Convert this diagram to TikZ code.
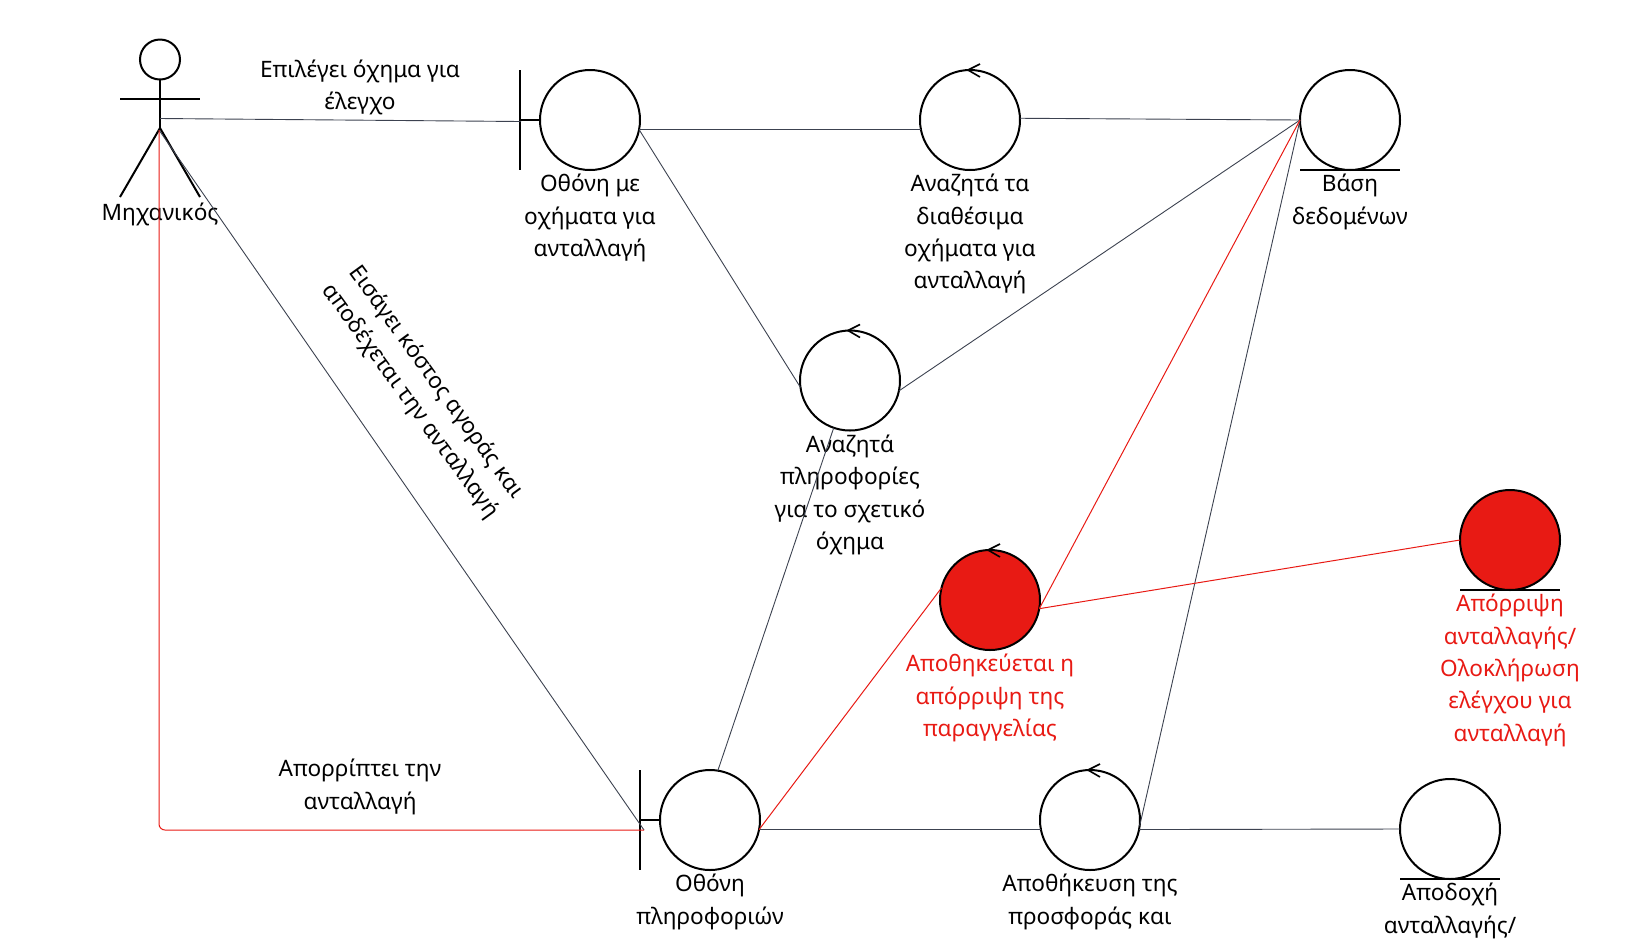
\documentclass[tikz,border=0pt]{standalone}
\usepackage{fontspec}
\setmainfont{Noto Sans}
\usetikzlibrary{positioning}
\definecolor{lnk}{HTML}{3C4250}
\definecolor{rj}{HTML}{E81A14}
\begin{document}
\begin{tikzpicture}[x=.5pt,y=-.5pt,
  o/.style={draw, circle, line width=1pt, minimum size=50pt, inner sep=0pt, outer sep=0pt},
  r/.style={o, fill=rj},
  l/.style={inner sep=0pt, align=center, font=\fontsize{11.3}{16.15}\selectfont},
  t/.style={l, below=2pt of #1},
  s/.style={line width=1pt},
  k/.style={lnk, line width=.45pt},
  e/.style={rj, line width=.5pt},
  node distance=2pt]
  \useasboundingbox (0,0) rectangle (1640,939);
  % robustness objects
  \node[o] (bA) at (590,120) {};
  \node[o] (cA) at (970,120) {};
  \node[o] (dA) at (1350,120) {};
  \node[o] (cB) at (850,380.5) {};
  \node[r] (cC) at (990,600) {};
  \node[r] (dB) at (1510,540) {};
  \node[o] (bB) at (710,820) {};
  \node[o] (cD) at (1090,820) {};
  \node[o] (dC) at (1450,829) {};
  % loops on the controls
  \foreach \c in {cA,cB,cC,cD}
    \draw[s, line width=.8pt] (\c.north) ++(10,-6) -- ++(-12,6) -- ++(12,7);
  % boundary bars and entity lines
  \foreach \c in {bA,bB}{
    \draw[s] (\c.west) -- ++(-20,0);
    \draw[s] (\c.west) ++(-20,-50) -- ++(0,100);
  }
  \foreach \c in {dA,dB,dC}
    \draw[s] (\c.south) ++(-50,0) -- ++(100,0);
  % actor
  \node[draw, circle, line width=1pt, minimum size=20pt, inner sep=0pt, outer sep=0pt] (aH) at (160,59.5) {};
  \coordinate (aN) at (160,99);
  \coordinate (aW) at (160,118.5);
  \coordinate (aP) at (160,128);
  \coordinate (aQ) at (159,130);
  \draw[s] (aH.south) -- (aP);
  \draw[s] (aN) ++(-40,0) -- ++(80,0);
  \draw[s] (120,197) -- (aP) -- (200,197);
  % labels
  \node[l] (tM) at (160,214) {Μηχανικός};
  \node[t=bA] (tA) {Οθόνη με\\οχήματα για\\ανταλλαγή};
  \node[t=cA] (tB) {Αναζητά τα\\διαθέσιμα\\οχήματα για\\ανταλλαγή};
  \node[t=dA] (tC) {Βάση\\δεδομένων};
  \node[t=cB] (tD) {Αναζητά\\πληροφορίες\\για το σχετικό\\όχημα};
  \node[t=cC, rj] (tE) {Αποθηκεύεται η\\απόρριψη της\\παραγγελίας};
  \node[t=dB, rj] (tF) {Απόρριψη\\ανταλλαγής/\\Ολοκλήρωση\\ελέγχου για\\ανταλλαγή};
  \node[t=bB] (tG) {Οθόνη\\πληροφοριών};
  \node[t=cD] (tH) {Αποθήκευση της\\προσφοράς και};
  \node[t=dC] (tI) {Αποδοχή\\ανταλλαγής/};
  \node[l] (tJ) at (360,87.5) {Επιλέγει όχημα για\\έλεγχο};
  \node[l] (tK) at (360,787) {Απορρίπτει την\\ανταλλαγή};
  \node[l, rotate=-54] (tL) at (423,392) {Εισάγει κόστος αγοράς και\\αποδέχεται την ανταλλαγή};
  % connectors
  \coordinate (bAin) at (521,121.5);
  \coordinate (bBin) at (644,830);
  \draw[k] (aW) -- (bAin);
  \draw[k] (bA.-11.5) -- (cA.191.5);
  \draw[k] (bA.-11.5) -- (cB.188);
  \draw[k] (cA.2) -- (dA.west);
  \draw[k] (cB.-12) -- (dA.west);
  \draw[k] (cB.251) -- (bB.81.5);
  \draw[k] (aQ) -- (bBin);
  \draw[k] (bB.-11.5) -- (cD.191.5);
  \draw[k] (cD.-7) -- (dA.west);
  \draw[k] (cD.-11.5) -- (dC.west);
  \draw[e, rounded corners=3pt] (aQ) -- (aQ |- bBin) -- (bBin);
  \draw[e] (bB.-11.5) -- (cC.166);
  \draw[e] (cC.-10) -- (dA.west);
  \draw[e] (cC.-10) -- (dB.west);
\end{tikzpicture}
\end{document}
